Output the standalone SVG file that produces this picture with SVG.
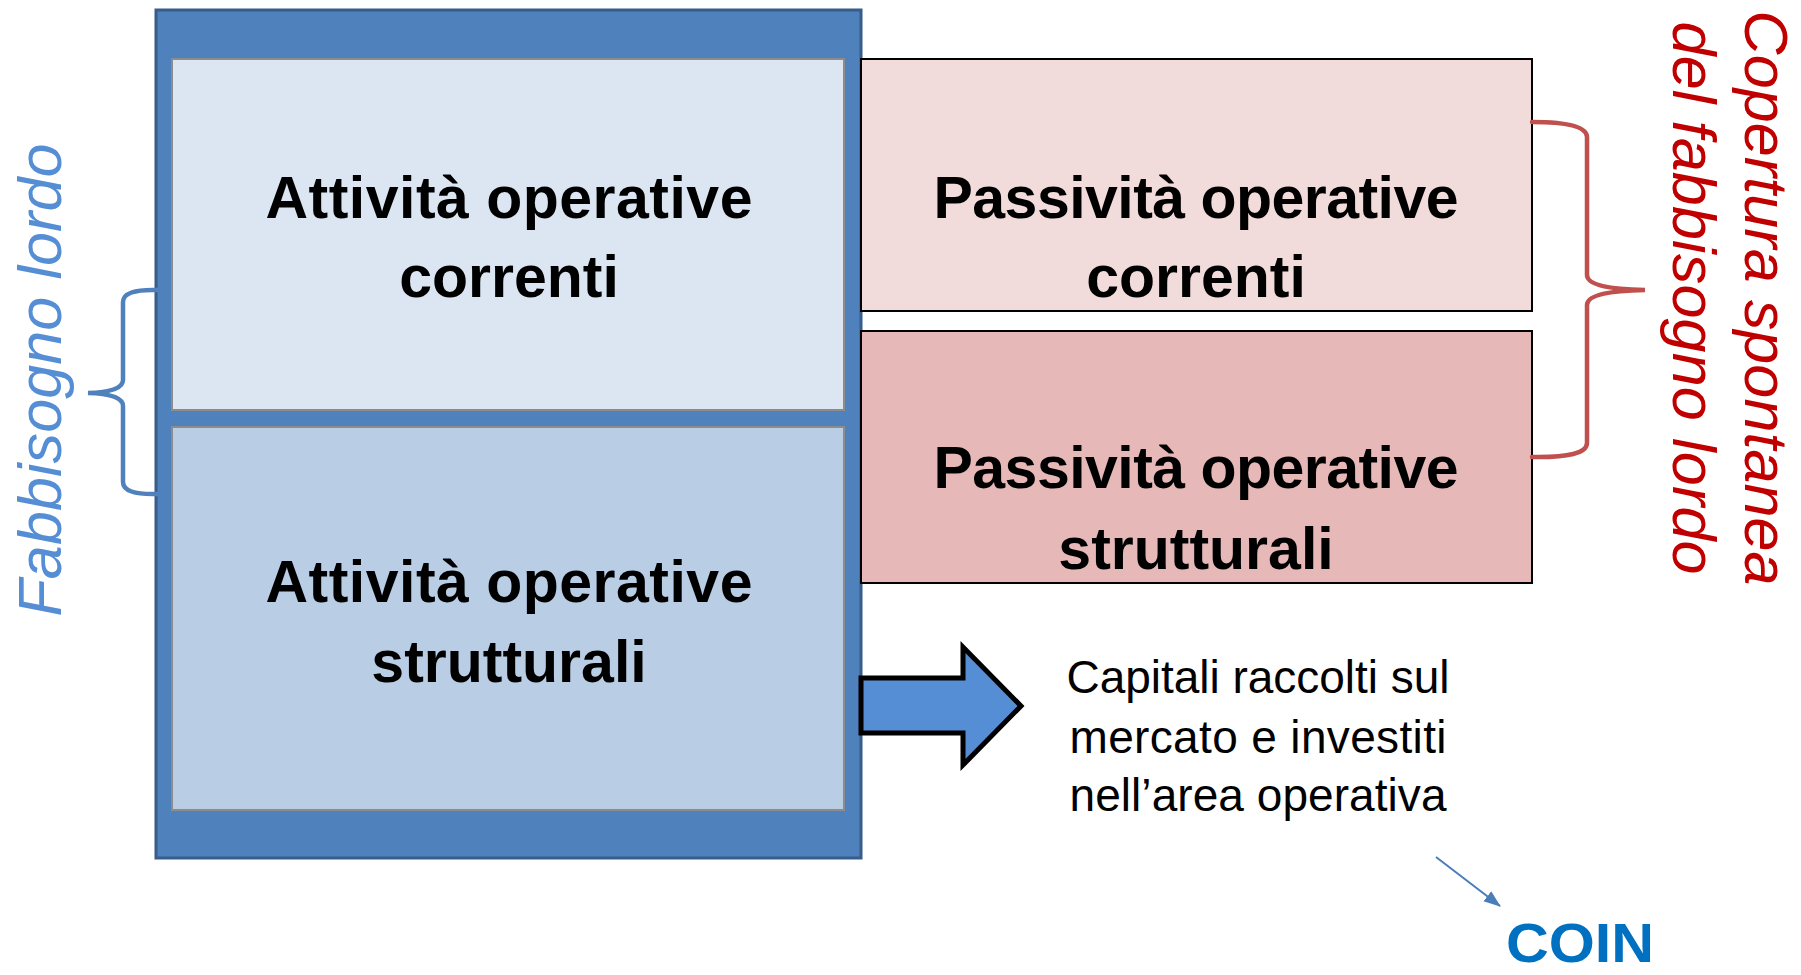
<svg xmlns="http://www.w3.org/2000/svg" width="1801" height="975" viewBox="0 0 1801 975">
<style>
.big{font-family:"Liberation Sans",Arial,sans-serif;font-weight:bold;font-size:59px;fill:#000;text-anchor:middle}
.side{font-family:"Liberation Sans",Arial,sans-serif;font-style:italic;font-size:61px;text-anchor:middle}
.note{font-family:"Liberation Sans",Arial,sans-serif;font-size:46px;fill:#000;text-anchor:middle}
.inner{stroke:#8C8C8C;stroke-width:2}
.pas{stroke:#000;stroke-width:2}
</style>
<defs>
<marker id="ah" viewBox="0 0 16 12" refX="15" refY="6" markerWidth="17" markerHeight="13" markerUnits="userSpaceOnUse" orient="auto">
<path d="M0,0 L16,6 L0,12 z" fill="#4A7EBB"/>
</marker>
</defs>
<rect width="1801" height="975" fill="#fff"/>
<g id="attivo">
<rect x="156" y="10" width="705" height="848" fill="#4F81BD" stroke="#385D8A" stroke-width="3"/>
</g>
<g id="attivita-correnti">
<rect class="inner" x="172" y="59" width="672" height="351" fill="#DCE6F2"/>
<text class="big" x="509" y="218" textLength="487" lengthAdjust="spacing">Attività operative</text>
<text class="big" x="509" y="297">correnti</text>
</g>
<g id="attivita-strutturali">
<rect class="inner" x="172" y="427" width="672" height="383" fill="#B9CDE5"/>
<text class="big" x="509" y="602" textLength="487" lengthAdjust="spacing">Attività operative</text>
<text class="big" x="509" y="682">strutturali</text>
</g>
<g id="passivita-correnti">
<rect class="pas" x="861" y="59" width="671" height="252" fill="#F2DCDB"/>
<text class="big" x="1196" y="218" textLength="525" lengthAdjust="spacing">Passività operative</text>
<text class="big" x="1196" y="297">correnti</text>
</g>
<g id="passivita-strutturali">
<rect class="pas" x="861" y="331" width="671" height="252" fill="#E6B9B8"/>
<text class="big" x="1196" y="488" textLength="525" lengthAdjust="spacing">Passività operative</text>
<text class="big" x="1196" y="569">strutturali</text>
</g>
<g id="fabbisogno-lordo">
<text class="side" fill="#558ED5" transform="translate(61,380) rotate(-90)" textLength="473" lengthAdjust="spacing">Fabbisogno lordo</text>
</g>
<g id="copertura">
<text class="side" fill="#C00000" font-size="59" transform="translate(1745,298) rotate(90)" textLength="575" lengthAdjust="spacing">Copertura spontanea</text>
<text class="side" fill="#C00000" font-size="59" transform="translate(1673,298) rotate(90)" textLength="553" lengthAdjust="spacing">del fabbisogno lordo</text>
</g>
<g id="capitali">
<text class="note" x="1258" y="693" textLength="383" lengthAdjust="spacing">Capitali raccolti sul</text>
<text class="note" x="1258" y="753" textLength="377" lengthAdjust="spacing">mercato e investiti</text>
<text class="note" x="1258" y="811" textLength="377" lengthAdjust="spacing">nell’area operativa</text>
</g>
<g id="coin">
<text x="1580" y="962" font-family="'Liberation Sans',Arial,sans-serif" font-weight="bold" font-size="56" fill="#0070C0" text-anchor="middle" textLength="148" lengthAdjust="spacingAndGlyphs">COIN</text>
</g>
<g id="connectors" fill="none">
<path d="M157,290 Q123,289 123,302 L123,380 Q123,392 88,393 Q123,394 123,406 L123,482 Q123,495 157,494" stroke="#4F81BD" stroke-width="4.5" stroke-linecap="round"/>
<path d="M1532,122 Q1587,122 1587,137 L1587,275 Q1587,289 1645,290 Q1587,291 1587,305 L1587,443 Q1587,458 1532,457" stroke="#C0504D" stroke-width="4.5" stroke-linecap="round"/>
<polygon points="861,678 963,678 963,647 1021,706 963,765 963,733 861,733" fill="#558ED5" stroke="#000" stroke-width="5" stroke-linejoin="miter"/>
<line x1="1436" y1="857" x2="1500" y2="906" stroke="#4A7EBB" stroke-width="2" marker-end="url(#ah)"/>
</g>
</svg>
